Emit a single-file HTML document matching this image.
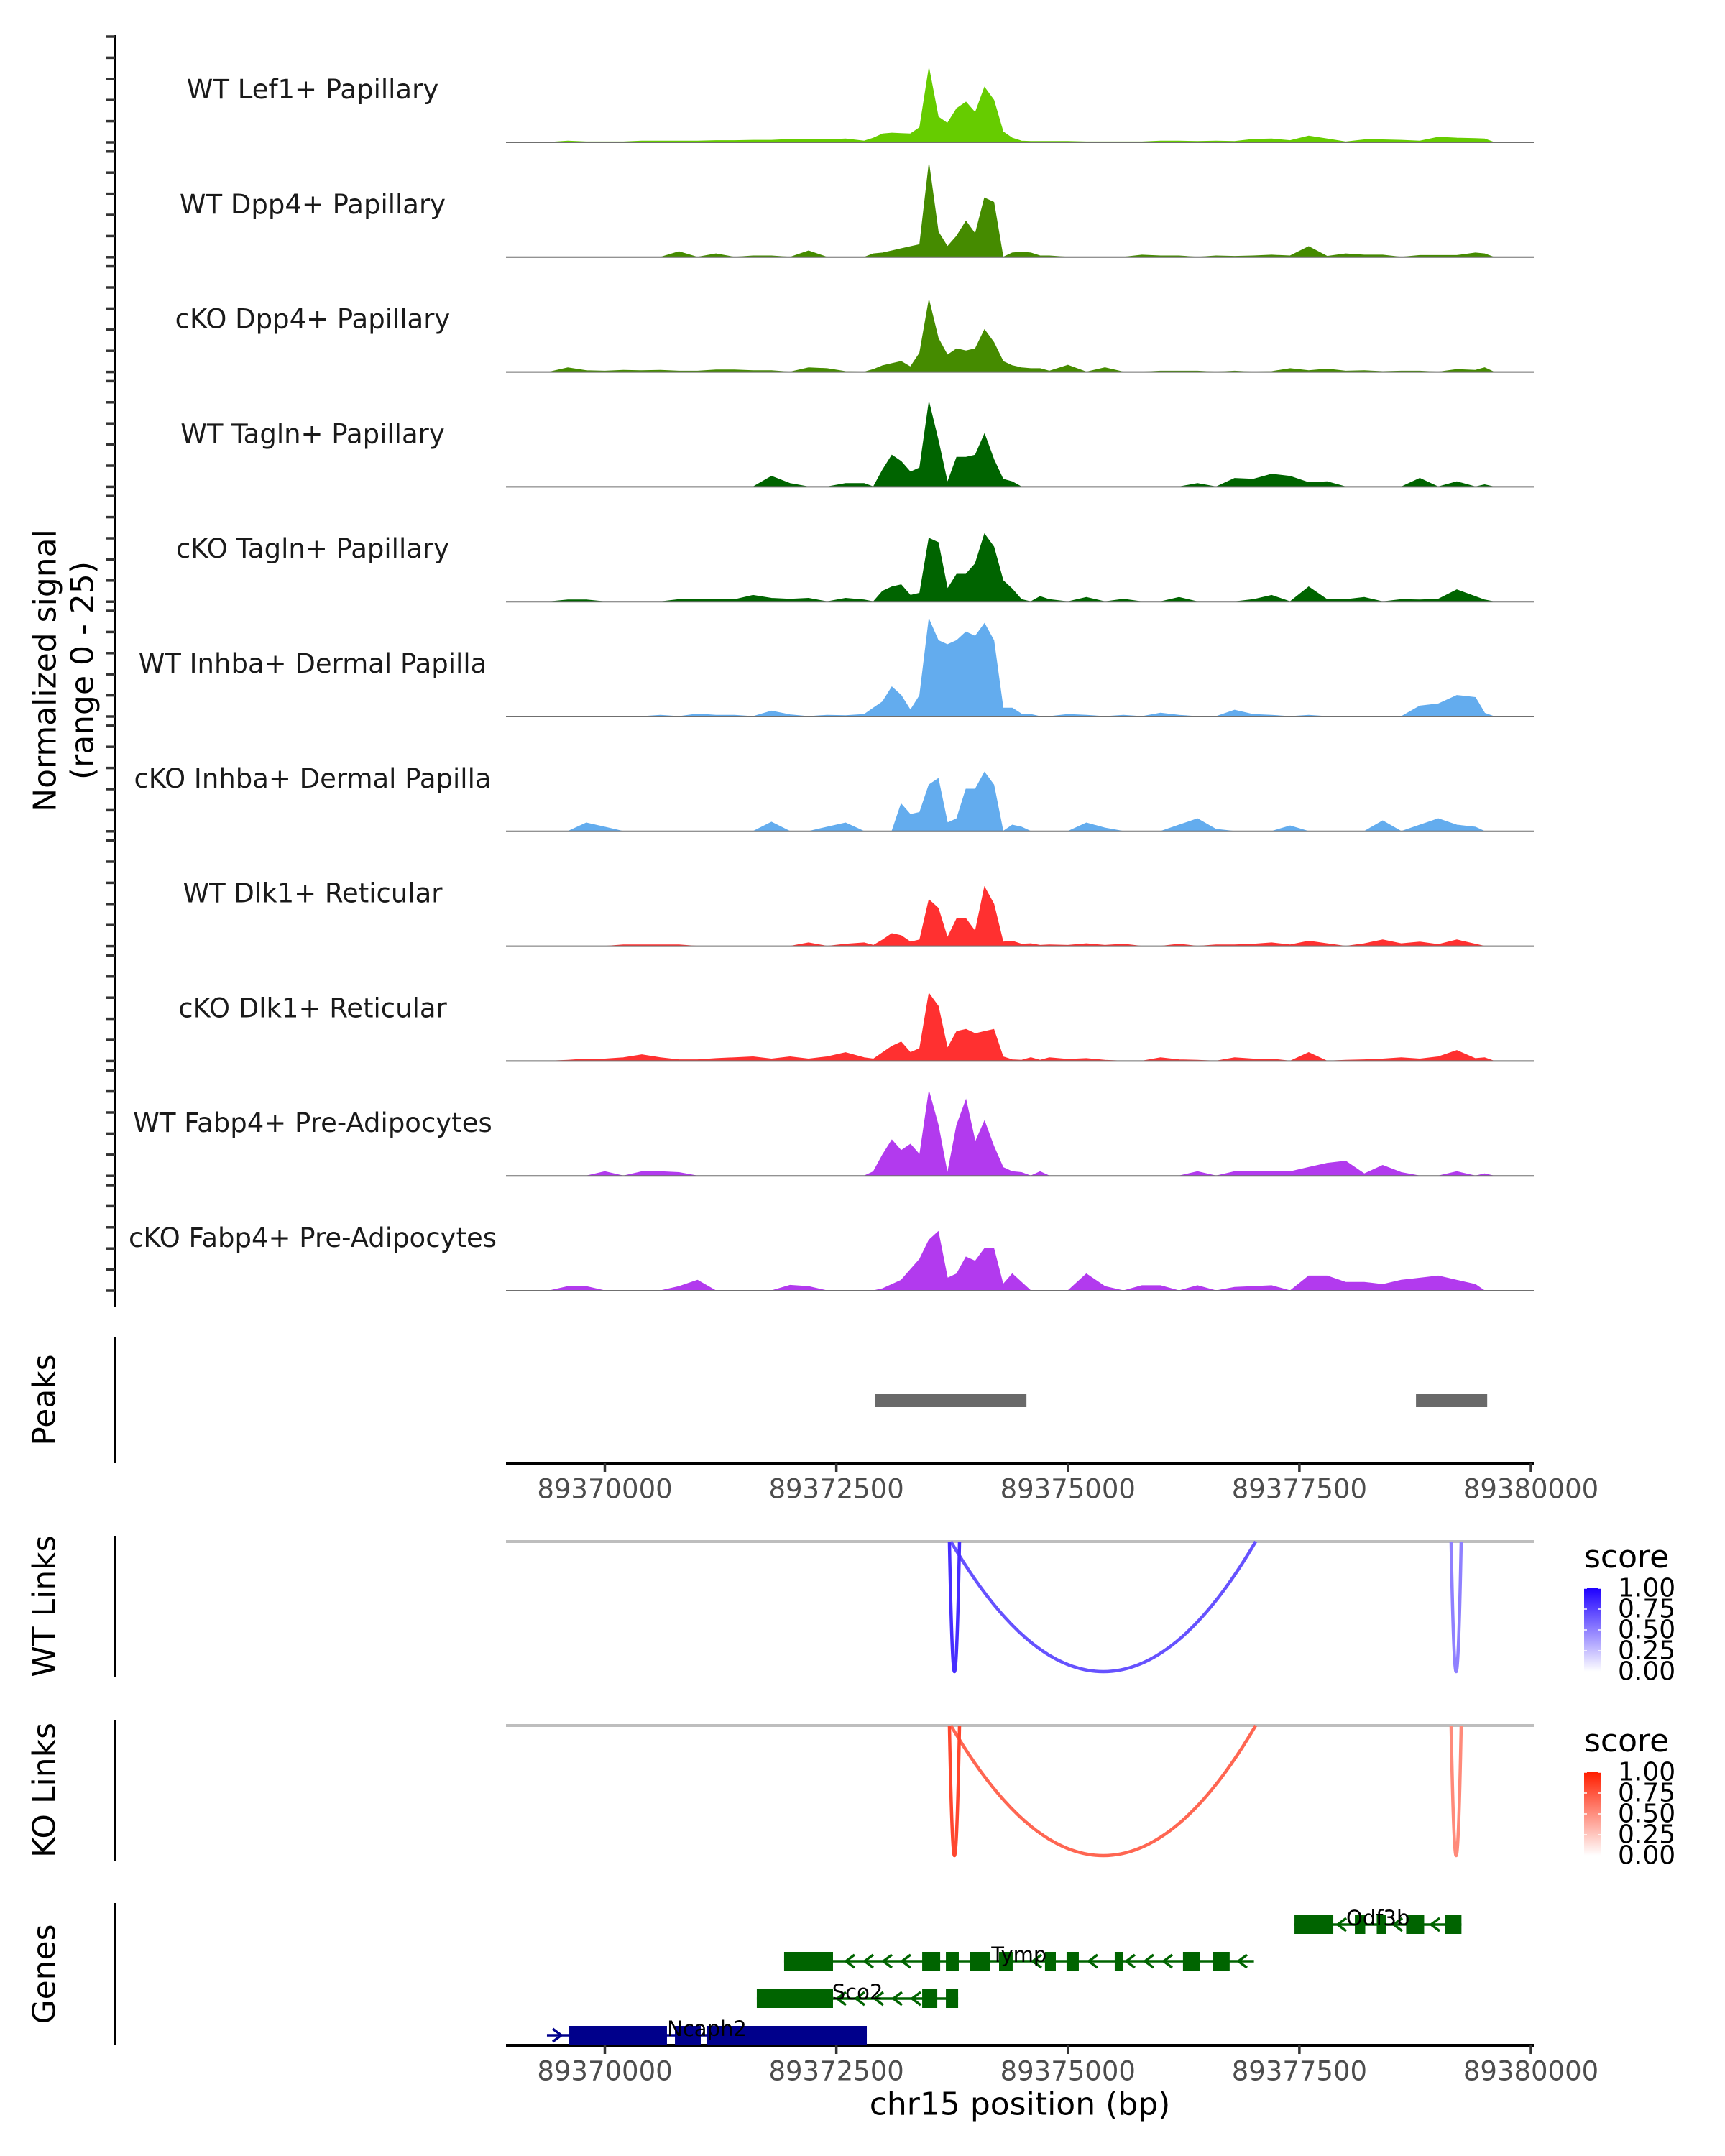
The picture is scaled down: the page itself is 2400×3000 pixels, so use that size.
<!DOCTYPE html>
<html><head><meta charset="utf-8"><style>
html,body{margin:0;padding:0;background:#fff;}
svg{display:block;font-family:"DejaVu Sans","Liberation Sans",sans-serif;}
</style></head>
<body>
<svg id="chart" xmlns="http://www.w3.org/2000/svg" width="2400" height="3000" viewBox="0 0 2400 3000">
<rect x="0" y="0" width="2400" height="3000" fill="#fff"/>
<g id="tracks"></g>
<g id="lower"></g>
<text transform="translate(63,933) rotate(-90)" text-anchor="middle" dominant-baseline="central" font-size="44" fill="#000">Normalized signal</text>
<text transform="translate(115,933) rotate(-90)" text-anchor="middle" dominant-baseline="central" font-size="44" fill="#000">(range 0 - 25)</text>
<text x="1419" y="2928" text-anchor="middle" dominant-baseline="central" font-size="44" fill="#000">chr15 position (bp)</text>
</svg>
<script>
const positions = [89369400,89369600,89369800,89370000,89370200,89370400,89370600,89370800,89371000,89371200,89371400,89371600,89371800,89372000,89372200,89372400,89372600,
89372800,89372900,89373000,89373100,89373200,89373300,89373400,89373500,89373600,89373700,89373800,89373900,89374000,89374100,89374200,89374300,89374400,89374500,89374600,89374700,89374800,
89375000,89375200,89375400,89375600,89375800,89376000,89376200,89376400,89376600,89376800,89377000,89377200,89377400,89377600,89377800,89378000,89378200,89378400,89378600,89378800,89379000,89379200,89379400,89379500,89379600];
const trackNames = ["WT Lef1+ Papillary","WT Dpp4+ Papillary","cKO Dpp4+ Papillary","WT Tagln+ Papillary","cKO Tagln+ Papillary","WT Inhba+ Dermal Papilla","cKO Inhba+ Dermal Papilla","WT Dlk1+ Reticular","cKO Dlk1+ Reticular","WT Fabp4+ Pre-Adipocytes","cKO Fabp4+ Pre-Adipocytes"];
const trackColors = ["#66CC00","#458B00","#458B00","#006400","#006400","#63ACEE","#63ACEE","#FF3030","#FF3030","#B23AEE","#B23AEE"];
const wtLef1 = [0,0.3,0.1,0.1,0.1,0.3,0.3,0.3,0.3,0.4,0.4,0.5,0.5,0.7,0.6,0.6,0.8, 0.3,1.0,2.0,2.2,2.1,2.0,3.5,17.5,6,4.5,8,9.5,7,13,10,2.5,1.0,0.3,0.2,0.2,0.2, 0.2,0.1,0.1,0.1,0.1,0.3,0.3,0.2,0.3,0.2,0.7,0.8,0.4,1.5,0.8,0.1,0.6,0.6,0.5,0.3,1.2,1.0,0.9,0.8,0];
const wtDpp4 = [0,0,0,0,0,0,0,1.3,0,0.8,0,0.3,0.3,0,1.5,0,0, 0,0.8,1.0,1.5,2.0,2.5,3.0,22,6,2.5,5,8.5,5.5,14,13,0,1.0,1.2,1.0,0.3,0.3, 0,0,0,0,0.5,0.3,0.3,0,0.3,0.2,0.3,0.5,0.3,2.5,0.2,0.8,0.5,0.5,0,0.4,0.4,0.4,1.0,0.8,0];
const koDpp4 = [0,1.0,0.3,0.2,0.4,0.3,0.4,0.2,0.2,0.5,0.5,0.3,0.3,0,1.0,0.8,0.1, 0,0.6,1.5,2.0,2.5,1.2,4.5,17,8,4.0,5.5,5.0,5.5,10,7,2.5,1.5,1.0,0.8,0.8,0.2, 1.6,0,1.0,0,0,0.2,0.2,0.2,0,0.2,0,0.1,0.8,0.3,0.7,0.2,0.3,0.1,0.2,0.2,0,0.6,0.4,1.0,0];
const wtTagln = [0,0,0,0,0,0,0,0,0,0,0,0,2.5,0.8,0,0,0.8, 0.8,0,4.0,7.5,6,3.5,4.5,20,11,1.0,7,7,7.5,12.5,6.5,1.8,1.2,0,0,0,0, 0,0,0,0,0,0,0,0.8,0,2.0,1.8,3.0,2.5,1.0,1.2,0,0,0,0,2.0,0,1.2,0,0.5,0];
const koTagln = [0,0.4,0.4,0,0,0,0,0.5,0.5,0.5,0.5,1.5,0.8,0.6,0.8,0,0.8, 0.4,0,2.5,3.5,4,1.5,2,15,14,3,6.5,6.5,9,16,13,5,3.0,0.5,0,1.2,0.5, 0,1.0,0,0.6,0,0,1.0,0,0,0,0.5,1.5,0,3.5,0.5,0.5,1.0,0,0.5,0.4,0.6,2.8,1.2,0.4,0];
const wtInhba = [0,0,0,0,0,0,0.3,0,0.6,0.3,0.3,0,1.3,0.4,0,0.3,0.2, 0.5,2.0,3.5,7,5.0,1.5,5,23,18,17,18,20,19,22,18,2.0,2.0,0.6,0.5,0,0, 0.5,0.3,0,0.3,0,0.8,0.3,0,0,1.5,0.5,0.3,0,0.3,0,0,0,0,0,2.5,3.0,5.0,4.5,0.8,0];
const koInhba = [0,0,2.0,1.0,0,0,0,0,0,0,0,0,2.2,0,0,1.0,2.0, 0,0,0,0,6.5,4,4.5,11,12.5,2.0,3,10,10,14,11,0,1.5,1.0,0,0,0, 0,2.0,0.8,0,0,0,1.5,3.0,0.5,0,0,0,1.3,0,0,0,0,2.5,0,1.5,3.0,1.5,1.0,0,0];
const wtDlk1 = [0,0,0,0,0.3,0.3,0.3,0.3,0,0,0,0,0,0,0.8,0,0.5, 0.8,0.2,1.5,3.0,2.5,1.0,1.5,11,9,2.0,6.5,6.5,3.5,14,10,1.0,1.2,0.5,0.6,0.2,0.3, 0.2,0.6,0.2,0.5,0,0,0.5,0,0.3,0.3,0.5,0.8,0.3,1.2,0.6,0,0.6,1.5,0.6,1.0,0.4,1.5,0.5,0,0];
const koDlk1 = [0,0.2,0.5,0.5,0.8,1.5,0.8,0.3,0.3,0.6,0.8,1.0,0.5,1.0,0.5,1.0,2.0, 0.8,0.5,2.0,3.5,4.5,2.0,3,16,13,3,7,7.5,6.5,7,7.5,1.0,0.3,0.2,0.8,0.2,0.8, 0.4,0.6,0.2,0,0,0.8,0.3,0.2,0,0.8,0.5,0.5,0,2.0,0,0.2,0.3,0.5,0.8,0.5,1.0,2.5,0.6,0.8,0];
const wtFabp4 = [0,0,0,1.0,0,1.0,1.0,0.8,0,0,0,0,0,0,0,0,0, 0,1.0,5,8.5,6,7.5,5,20,12,0.5,12,18,8,13,7,2.0,1.0,0.8,0,1.0,0, 0,0,0,0,0,0,0,1.0,0,1.0,1.0,1.0,1.0,2.0,3.0,3.5,0.5,2.5,0.8,0,0,1.0,0,0.5,0];
const koFabp4 = [0,1.0,1.0,0,0,0,0,1.0,2.5,0,0,0,0,1.3,1.0,0,0, 0,0,0.5,1.5,2.5,5,7.5,12,14,3.0,4,8,7,10,10,1.5,4,2.0,0,0,0, 0,4.0,1.0,0,1.2,1.2,0,1.2,0,0.8,1.0,1.2,0,3.5,3.5,2.0,2.0,1.5,2.5,3.0,3.5,2.5,1.5,0,0];
const trackValues = [wtLef1,wtDpp4,koDpp4,wtTagln,koTagln,wtInhba,koInhba,wtDlk1,koDlk1,wtFabp4,koFabp4];
const yTicks = [0,5,10,15,20,25];
const xTicks = [89370000,89372500,89375000,89377500,89380000];
const peakStart = [89372915,89378759];
const peakEnd = [89374553,89379528];
const linkStart = [89373737,89373721,89379138];
const linkEnd = [89377028,89373830,89379247];
const wtScore = [0.68,0.82,0.5];
const koScore = [0.68,0.82,0.52];
const legendTicks = ["1.00","0.75","0.50","0.25","0.00"];
const geneNames = ["Odf3b","Tymp","Sco2","Ncaph2"];
const geneStrand = [-1,-1,-1,1];
const geneStart = [89377447,89371936,89371641,89369375];
const geneEnd = [89379250,89377009,89373815,89372829];
const odf3bExons = [[89377447,89377866],[89378099,89378211],[89378335,89378436],[89378653,89378847],[89379072,89379250]];
const tympExons = [[89371936,89372464],[89373427,89373621],[89373683,89373822],[89373939,89374156],[89374257,89374404],[89374753,89374870],[89374986,89375118],[89375506,89375599],[89376243,89376429],[89376569,89376747]];
const sco2Exons = [[89371641,89372464],[89373427,89373590],[89373683,89373815]];
const ncaph2Exons = [[89369616,89370671],[89370757,89371036],[89371098,89372829]];
const geneExons = [odf3bExons,tympExons,sco2Exons,ncaph2Exons];

const NS="http://www.w3.org/2000/svg";
const PL=704, PR=2134;
function xs(bp){return 841.5+(bp-89370000)*0.12885;}
function mk(tag,attrs,parent){const e=document.createElementNS(NS,tag);for(const k in attrs)e.setAttribute(k,attrs[k]);parent.appendChild(e);return e;}
const svg=document.getElementById('chart');
const defs=mk('defs',{},svg);
const cp=mk('clipPath',{id:'plotclip'},defs);
mk('rect',{x:PL,y:0,width:PR-PL,height:3000},cp);
const tracksG=document.getElementById('tracks');
const lower=document.getElementById('lower');

const axis=mk('line',{x1:160,y1:49,x2:160,y2:1818,stroke:'#000','stroke-width':4},tracksG);



trackValues.forEach((vals,k)=>{
  const base=198+159.8*k, H=147;
  const ys=v=>base-v/25*H;
  const g=mk('g',{},tracksG);
  
  
  yTicks.forEach(t=>{
    const tk=mk('line',{x1:147,x2:160,y1:ys(t),y2:ys(t),stroke:'#333','stroke-width':3.5},g);
    
    
  });
  let d='M'+xs(positions[0])+','+base;
  positions.forEach((p,i)=>{d+=' L'+xs(p).toFixed(1)+','+ys(vals[i]).toFixed(1);});
  d+=' L'+xs(positions[positions.length-1])+','+base+' Z';
  const area=mk('path',{d:d,fill:trackColors[k],stroke:trackColors[k],'stroke-width':1,'clip-path':'url(#plotclip)'},g);
  
  
  const bl=mk('line',{x1:PL,x2:PR,y1:base,y2:base,stroke:'#6f6f6f','stroke-width':2},g);
  
  
  const lab=mk('text',{x:435,y:base-73.5,'text-anchor':'middle','dominant-baseline':'central','font-size':37,fill:'#1a1a1a'},g);
  lab.textContent=trackNames[k];
  
  
});

function sideLabel(txt,yc,y1,y2,name){
  const t=mk('text',{transform:'translate(62,'+yc+') rotate(-90)','text-anchor':'middle','dominant-baseline':'central','font-size':44,fill:'#000'},lower);
  t.textContent=txt;
  
  
  const l=mk('line',{x1:160,x2:160,y1:y1,y2:y2,stroke:'#000','stroke-width':4},lower);
  
  
}
sideLabel('Peaks',1948,1861,2036,'peaks');
sideLabel('WT Links',2235,2137,2334,'wt-links');
sideLabel('KO Links',2491,2393,2590,'ko-links');
sideLabel('Genes',2747,2648,2846,'genes');

peakStart.forEach((s,i)=>{
  const r=mk('rect',{x:xs(s),y:1940,width:xs(peakEnd[i])-xs(s),height:18,fill:'#696969'},lower);
  
  
});

function xAxis(y,name){
  const g=mk('g',{},lower);
  
  
  const l=mk('line',{x1:PL,x2:PR,y1:y,y2:y,stroke:'#000','stroke-width':4},g);
  
  
  xTicks.forEach(t=>{
    const tk=mk('line',{x1:xs(t),x2:xs(t),y1:y,y2:y+12,stroke:'#333','stroke-width':3.5},g);
    
    
    const tx=mk('text',{x:xs(t),y:y+36,'text-anchor':'middle','dominant-baseline':'central','font-size':37,fill:'#4d4d4d'},g);
    tx.textContent=String(t);
    
    
  });
}
xAxis(2036,'peaks-x-axis');
xAxis(2846,'genes-x-axis');

function links(y0,scores,rgb,name,legY){
  const g=mk('g',{},lower);
  
  
  const l=mk('line',{x1:PL,x2:PR,y1:y0,y2:y0,stroke:'#bebebe','stroke-width':4},g);
  
  
  const depth=181;
  linkStart.forEach((s,i)=>{
    const x1=xs(s),x2=xs(linkEnd[i]),t=scores[i];
    const col='rgb('+rgb.map(c=>Math.round(255+(c-255)*t)).join(',')+')';
    const p=mk('path',{d:'M'+x1+','+y0+' Q'+((x1+x2)/2)+','+(y0+2*depth)+' '+x2+','+y0,fill:'none',stroke:col,'stroke-width':4.5,'clip-path':'url(#plotclip)'},g);
    
    
  });
  const lg=mk('g',{},g);
  
  
  const gid='grad'+name;
  const gr=mk('linearGradient',{id:gid,x1:0,y1:1,x2:0,y2:0},defs);
  mk('stop',{offset:0,'stop-color':'#fff'},gr);
  mk('stop',{offset:1,'stop-color':'rgb('+rgb.join(',')+')'},gr);
  const tt=mk('text',{x:2204,y:legY,'font-size':44,fill:'#000'},lg);
  tt.textContent='score';
  
  
  const top=legY+29, bot=legY+145;
  const bar=mk('rect',{x:2204,y:top,width:23,height:bot-top,fill:'url(#'+gid+')'},lg);
  
  
  legendTicks.forEach((lbl,i)=>{
    const yy=top+i*(bot-top)/4;
    mk('line',{x1:2204,x2:2208,y1:yy,y2:yy,stroke:'#fff','stroke-width':1.5},lg);
    mk('line',{x1:2223,x2:2227,y1:yy,y2:yy,stroke:'#fff','stroke-width':1.5},lg);
    const tx=mk('text',{x:2251,y:yy,'dominant-baseline':'central','font-size':36,fill:'#000'},lg);
    tx.textContent=lbl;
    
    
  });
}
links(2145,wtScore,[30,0,255],'wt-links-panel',2181);
links(2401,koScore,[255,30,0],'ko-links-panel',2437);

const rowY=[2678,2729,2781,2832];
const geneCols=['#006400','#006400','#006400','#00008B'];
geneNames.forEach((nm,i)=>{
  const g=mk('g',{},lower);
  
  
  const y=rowY[i], col=geneCols[i];
  const xa=xs(geneStart[i]), xb=xs(geneEnd[i]);
  const ln=mk('line',{x1:xa,x2:xb,y1:y,y2:y,stroke:col,'stroke-width':3.5},g);
  
  
  const ex=geneExons[i];
  for(let x=xa+14;x<xb-6;x+=26){
    const inside=ex.some(e=>x>xs(e[0])-8&&x<xs(e[1])+8);
    if(inside) continue;
    const dx=-6*geneStrand[i];
    const ch=mk('path',{d:'M'+(x+dx)+','+(y-9)+' L'+(x-dx)+','+y+' L'+(x+dx)+','+(y+9),fill:'none',stroke:col,'stroke-width':3.5},g);
    
    
  }
  ex.forEach(e=>{
    const r=mk('rect',{x:xs(e[0]),y:y-13,width:xs(e[1])-xs(e[0]),height:26,fill:col},g);
    
    
  });
  const lx=(Math.max(xa,PL)+xb)/2;
  const t=mk('text',{x:lx,y:y-9,'text-anchor':'middle','dominant-baseline':'central','font-size':29,fill:'#000'},g);
  t.textContent=nm;
  
  
});
</script>
</body></html>
